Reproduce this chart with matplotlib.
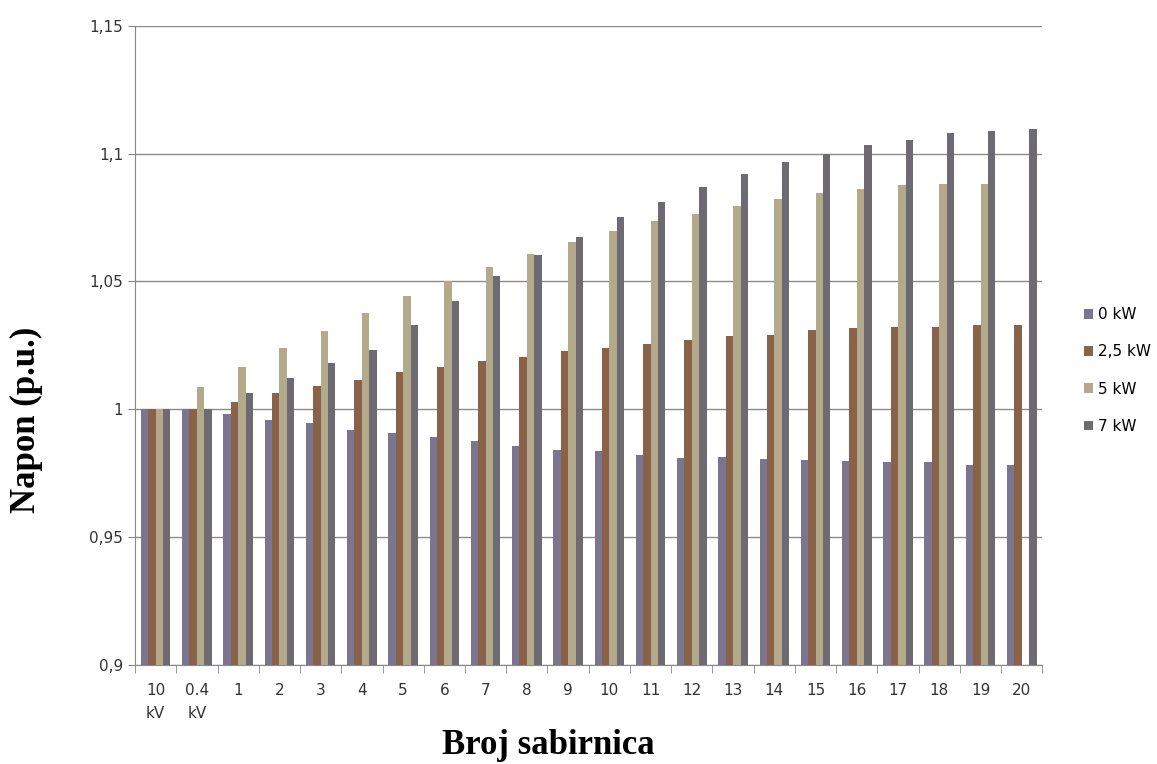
import numpy as np
import matplotlib.pyplot as plt
from matplotlib.ticker import FixedLocator, FuncFormatter

# sabirnice (buses)
buses = ['10\nkV', '0.4\nkV', '1', '2', '3', '4', '5', '6', '7', '8', '9', '10',
         '11', '12', '13', '14', '15', '16', '17', '18', '19', '20']

series_names = ['0 kW', '2,5 kW', '5 kW', '7 kW']

v_0kw = [1.0, 1.0, 0.998, 0.9957, 0.9945, 0.992, 0.9905, 0.989, 0.9874, 0.9855,
         0.984, 0.9838, 0.982, 0.981, 0.9811, 0.9807, 0.980, 0.9796, 0.9792,
         0.9792, 0.978, 0.978]
v_25kw = [1.0, 1.0, 1.003, 1.0063, 1.009, 1.0114, 1.0146, 1.0165, 1.019, 1.0205,
          1.0228, 1.024, 1.0256, 1.0272, 1.0287, 1.029, 1.031, 1.0318, 1.0322,
          1.0322, 1.033, 1.033]
v_5kw = [1.0, 1.0087, 1.0165, 1.024, 1.0307, 1.0378, 1.0445, 1.05, 1.0555, 1.0607,
         1.0654, 1.0697, 1.0736, 1.0764, 1.0795, 1.0823, 1.0847, 1.0862, 1.0878,
         1.0882, 1.0882, np.nan]
v_7kw = [1.0, 1.0, 1.0063, 1.0122, 1.018, 1.023, 1.033, 1.0425, 1.052, 1.0602,
         1.0673, 1.0752, 1.081, 1.087, 1.092, 1.0969, 1.100, 1.1035, 1.1055,
         1.108, 1.109, 1.1098]

colors = ['#7b7590', '#8a6249', '#b3aa8c', '#6e6a72']

fig = plt.figure(figsize=(11.57, 7.64), dpi=100)
ax = fig.add_axes([0.1167, 0.13, 0.7843, 0.836])

x = np.arange(len(buses))
w = 0.18
for k, (vals, name) in enumerate(zip([v_0kw, v_25kw, v_5kw, v_7kw], series_names)):
    ax.bar(x + (k - 1.5) * w, vals, width=w, color=colors[k], label=name, zorder=3)

ax.set_ylim(0.9, 1.15)
ax.set_xlim(-0.5, len(buses) - 0.5)
ax.set_yticks([0.9, 0.95, 1.0, 1.05, 1.1, 1.15])
ax.yaxis.set_major_formatter(FuncFormatter(lambda v, p: f"{v:g}".replace('.', ',')))
ax.yaxis.grid(True, color='#8a8a8a', lw=1.0, zorder=0)

# kategorije: oznake u sredini, crtice na granicama
ax.set_xticks(x)
ax.set_xticklabels(buses, linespacing=1.7)
ax.tick_params(axis='x', which='major', length=0, pad=13, labelsize=11, colors='#333333')
ax.xaxis.set_minor_locator(FixedLocator(np.arange(-0.5, len(buses), 1.0)))
ax.tick_params(axis='x', which='minor', length=6, color='#888888')
ax.tick_params(axis='y', length=5, color='#888888', labelsize=11, labelcolor='#333333')

for s in ['top', 'right']:
    ax.spines[s].set_visible(False)
for s in ['left', 'bottom']:
    ax.spines[s].set_color('#888888')

fig.text(0.023, 0.45, 'Napon (p.u.)', rotation=90, ha='center', va='center',
         family='Liberation Serif', fontweight='bold', fontsize=25)
fig.text(0.474, 0.024, 'Broj sabirnica', ha='center', va='center',
         family='Liberation Serif', fontweight='bold', fontsize=25)

fig.legend(loc='center left', bbox_to_anchor=(0.925, 0.515), frameon=False,
           handlelength=0.6, handleheight=0.6, handletextpad=0.3,
           labelspacing=1.45, fontsize=11)

fig.savefig('out.png', dpi=100)
